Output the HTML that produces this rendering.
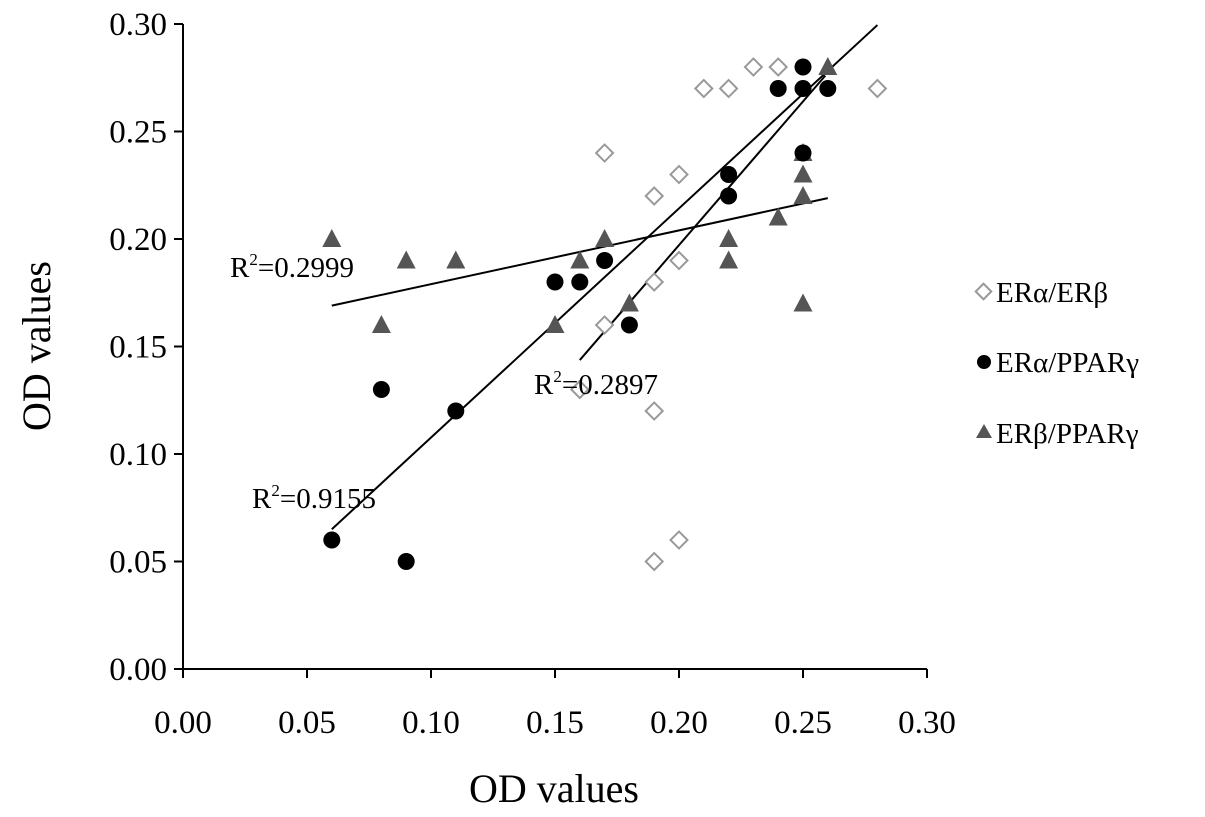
<!DOCTYPE html>
<html><head><meta charset="utf-8">
<style>
html,body{margin:0;padding:0;background:#fff;}
svg{display:block;font-family:"Liberation Serif",serif;}
</style></head>
<body>
<svg id="chart" width="1205" height="817" viewBox="0 0 1205 817" xmlns="http://www.w3.org/2000/svg">
<g id="axes"></g>
<g id="trends"></g>
<g id="marks"></g>
<text x="50" y="346" font-size="40" text-anchor="middle" transform="rotate(-90 50 346)">OD values</text>
<text x="554" y="802" font-size="40" text-anchor="middle">OD values</text>
<text x="230" y="277" font-size="29">R<tspan font-size="17" dy="-12">2</tspan><tspan dy="12">=0.2999</tspan></text>
<text x="534" y="394" font-size="29">R<tspan font-size="17" dy="-12">2</tspan><tspan dy="12">=0.2897</tspan></text>
<text x="252" y="508" font-size="29">R<tspan font-size="17" dy="-12">2</tspan><tspan dy="12">=0.9155</tspan></text>
<g>
<g>
<rect x="978" y="286" width="11" height="11" fill="#fff" stroke="#999" stroke-width="2" transform="rotate(45 983.5 291.5)"/>
<text x="996" y="302" font-size="29">ERα/ERβ</text></g>
<g>
<circle cx="984" cy="362" r="7" fill="#000"/>
<text x="996" y="372" font-size="29">ERα/PPARγ</text></g>
<g>
<polygon points="984,424 976,438 992,438" fill="#555"/>
<text x="996" y="443" font-size="29">ERβ/PPARγ</text></g>
</g>
</svg>
<script>
const xTicks=[0,0.05,0.10,0.15,0.20,0.25,0.30];
const yTicks=[0,0.05,0.10,0.15,0.20,0.25,0.30];
const diamondX=[0.16,0.17,0.17,0.19,0.19,0.19,0.19,0.20,0.20,0.20,0.21,0.22,0.23,0.24,0.28];
const diamondY=[0.13,0.16,0.24,0.22,0.18,0.12,0.05,0.23,0.19,0.06,0.27,0.27,0.28,0.28,0.27];
const circleX=[0.06,0.08,0.09,0.11,0.15,0.16,0.17,0.18,0.22,0.22,0.24,0.25,0.25,0.25,0.26];
const circleY=[0.06,0.13,0.05,0.12,0.18,0.18,0.19,0.16,0.23,0.22,0.27,0.28,0.27,0.24,0.27];
const triX=[0.06,0.08,0.09,0.11,0.15,0.16,0.17,0.18,0.22,0.22,0.24,0.25,0.25,0.25,0.25,0.26];
const triY=[0.20,0.16,0.19,0.19,0.16,0.19,0.20,0.17,0.20,0.19,0.21,0.24,0.23,0.22,0.17,0.28];
const trendX=[[0.06,0.26],[0.06,0.28],[0.16,0.259]];
const trendY=[[0.169,0.219],[0.065,0.2995],[0.1437,0.276]];
const NS="http://www.w3.org/2000/svg";
const X0=183,X1=927,Y0=669,Y1=24;
const sx=v=>X0+(v/0.30)*(X1-X0);
const sy=v=>Y0-(v/0.30)*(Y0-Y1);
function mk(tag,attrs,parent){const e=document.createElementNS(NS,tag);for(const k in attrs)e.setAttribute(k,attrs[k]);parent.appendChild(e);return e;}
const axes=document.getElementById('axes');
let a=mk('line',{x1:X0,y1:Y1,x2:X0,y2:Y0,stroke:'#000','stroke-width':2},axes);


a=mk('line',{x1:X0,y1:Y0,x2:X1,y2:Y0,stroke:'#000','stroke-width':2},axes);


xTicks.forEach(t=>{const x=sx(t);
 mk('line',{x1:x,y1:Y0,x2:x,y2:Y0+9,stroke:'#000','stroke-width':2},axes);
 const tx=mk('text',{x:x,y:Y0+64,'font-size':33,'text-anchor':'middle'},axes);tx.textContent=t.toFixed(2);
 
 });
yTicks.forEach(t=>{const y=sy(t);
 mk('line',{x1:X0-9,y1:y,x2:X0,y2:y,stroke:'#000','stroke-width':2},axes);
 const tx=mk('text',{x:X0-16,y:y+11,'font-size':33,'text-anchor':'end'},axes);tx.textContent=t.toFixed(2);
 
 });
const tr=document.getElementById('trends');
trendX.forEach((xs,i)=>{const l=mk('line',{x1:sx(xs[0]),y1:sy(trendY[i][0]),x2:sx(xs[1]),y2:sy(trendY[i][1]),stroke:'#000','stroke-width':2},tr);
 
 });
const m=document.getElementById('marks');
diamondX.forEach((v,i)=>{const x=sx(v),y=sy(diamondY[i]);
 const d=mk('rect',{x:x-6,y:y-6,width:12,height:12,fill:'#fff',stroke:'#999','stroke-width':2,transform:`rotate(45 ${x} ${y})`},m);
 
 });
triX.forEach((v,i)=>{const x=sx(v),y=sy(triY[i]);
 const p=mk('polygon',{points:`${x},${y-10} ${x-9.5},${y+8} ${x+9.5},${y+8}`,fill:'#555'},m);
 
 });
circleX.forEach((v,i)=>{
 const c=mk('circle',{cx:sx(v),cy:sy(circleY[i]),r:8.5,fill:'#000'},m);
 
 });
</script>
</body></html>
